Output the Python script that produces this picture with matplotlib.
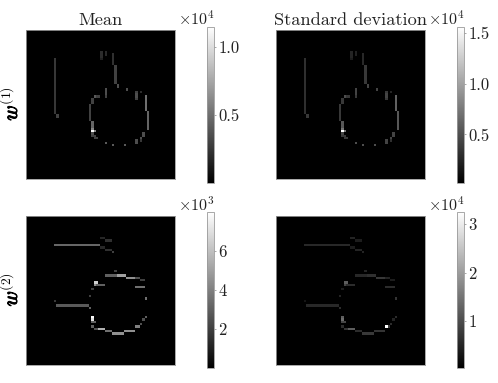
import numpy as np
import matplotlib
matplotlib.use("Agg")
import matplotlib.pyplot as plt
import matplotlib.patheffects as pe

plt.rcParams['font.family'] = ['cmr10', 'DejaVu Sans']
plt.rcParams['mathtext.fontset'] = 'cm'
plt.rcParams['axes.unicode_minus'] = False

GRID = 64
# Bright cells of each map: (row, first col, last col, value)
mean_1 = [
    (9, 32, 32, .20), (10, 32, 32, .20), (11, 32, 32, .20), (12, 32, 32, .15), (9, 34, 34, .18), (10, 34, 34, .18),
    (10, 37, 37, .22), (11, 37, 37, .22), (12, 37, 37, .22), (13, 37, 37, .22), (14, 37, 37, .22),
    (15, 38, 38, .30), (16, 38, 38, .30), (17, 38, 38, .30), (18, 38, 38, .30), (19, 38, 38, .30), (20, 38, 38, .30), (21, 38, 38, .30), (22, 38, 38, .30),
    (23, 39, 39, .35), (24, 39, 39, .35), (25, 43, 43, .35),
    (25, 34, 34, .35), (26, 34, 34, .35), (27, 34, 34, .35), (28, 34, 34, .30),
    (26, 47, 47, .30), (27, 47, 47, .35), (28, 47, 47, .35), (29, 47, 47, .30), (26, 49, 49, .20),
    (28, 29, 29, .40), (28, 30, 31, .30), (29, 28, 28, .30), (30, 28, 28, .30), (31, 28, 28, .30),
    (32, 27, 27, .30), (33, 27, 27, .30), (34, 27, 27, .30), (35, 27, 27, .30), (36, 27, 27, .30), (37, 27, 27, .30), (38, 27, 27, .30),
    (39, 28, 28, .45), (40, 28, 28, .45), (41, 28, 28, .45), (42, 28, 28, .60), (43, 28, 28, 1.12), (43, 29, 29, .60), (44, 28, 28, .35), (45, 28, 29, .30), (46, 29, 30, .30),
    (48, 34, 34, .40), (49, 37, 37, .40), (49, 42, 42, .40), (47, 47, 47, .35), (48, 47, 47, .35),
    (46, 49, 49, .35), (47, 49, 49, .25), (44, 50, 50, .35), (45, 50, 50, .35),
    (35, 52, 52, .45), (36, 52, 52, .45), (37, 52, 52, .45), (38, 52, 52, .45), (39, 52, 52, .45), (40, 52, 52, .45), (41, 52, 52, .45), (42, 52, 52, .45),
    (28, 51, 51, .50), (29, 51, 51, .50), (30, 51, 51, .50), (31, 51, 51, .50), (32, 51, 51, .50), (33, 51, 51, .50), (34, 51, 51, .50),
    (12, 12, 12, .25), (16, 12, 12, .25), (20, 12, 12, .25), (24, 12, 12, .25), (28, 12, 12, .25), (32, 12, 12, .25), (35, 12, 12, .25),
    (13, 12, 12, .25), (14, 12, 12, .25), (15, 12, 12, .25), (17, 12, 12, .25), (18, 12, 12, .25), (19, 12, 12, .25), (21, 12, 12, .25), (22, 12, 12, .25), (23, 12, 12, .25),
    (25, 12, 12, .25), (26, 12, 12, .25), (27, 12, 12, .25), (29, 12, 12, .25), (30, 12, 12, .25), (31, 12, 12, .25), (33, 12, 12, .25), (34, 12, 12, .25),
    (36, 13, 13, .30), (37, 13, 13, .30),
]
std_1 = [(r, a, b, v * 1.22 if v < 1 else 1.56) for r, a, b, v in mean_1]
mean_2 = [
    (9, 32, 33, 1.2), (10, 34, 36, 1.5), (12, 12, 31, 3.2), (13, 32, 33, 1.3), (14, 34, 36, 1.5), (15, 37, 37, 2.0),
    (23, 38, 38, 2.0), (25, 34, 38, 3.0), (25, 39, 42, 5.0), (26, 43, 46, 4.5), (26, 47, 48, 2.5), (27, 49, 50, 2.0),
    (28, 29, 30, 6.5), (29, 29, 29, 4.5), (29, 30, 33, 3.0), (30, 47, 50, 3.5), (31, 28, 28, 2.0), (34, 27, 27, 2.0), (35, 51, 51, 3.5),
    (36, 12, 12, 1.8), (38, 13, 26, 2.8), (39, 27, 27, 3.0), (43, 28, 28, 7.8), (44, 28, 28, 7.0), (43, 51, 51, 3.0), (44, 50, 50, 2.5),
    (45, 28, 29, 3.0), (46, 49, 49, 2.5), (47, 47, 48, 4.0), (47, 28, 28, 3.0), (48, 29, 30, 2.5), (48, 31, 33, 5.5),
    (49, 34, 36, 3.5), (49, 42, 46, 4.5), (50, 37, 41, 4.5),
]
std_2 = [
    (9, 32, 33, .5), (10, 34, 36, .4), (12, 12, 31, .55), (13, 32, 33, .4), (14, 34, 36, .5), (15, 37, 37, .5),
    (23, 38, 38, .5), (25, 34, 38, .55), (25, 39, 42, .65), (26, 43, 46, .75), (26, 47, 48, .5), (27, 49, 50, .4),
    (28, 29, 30, 1.2), (29, 29, 29, .9), (29, 30, 33, .6), (30, 47, 50, .6), (31, 28, 28, .4), (34, 27, 27, .5), (35, 51, 51, .7),
    (36, 12, 12, .3), (38, 13, 26, .55), (39, 27, 27, .6), (43, 28, 28, 1.2), (44, 28, 28, 1.4), (43, 51, 51, .6), (44, 50, 50, .5),
    (45, 28, 29, .9), (46, 49, 49, .6), (47, 47, 47, 3.25), (47, 48, 48, .8), (47, 28, 28, .6), (48, 29, 30, .7), (48, 31, 33, 1.2),
    (49, 34, 36, .6), (49, 42, 46, .7), (50, 37, 41, .75),
]
ranges = [(0.0, 1.15), (0.02, 1.565), (0.0, 8.0), (0.03, 3.25)]
ticks = [[0.5, 1.0], [0.5, 1.0, 1.5], [2, 4, 6], [1, 2, 3]]
tick_labels = [['0.5', '1.0'], ['0.5', '1.0', '1.5'], ['2', '4', '6'], ['1', '2', '3']]
exps = ['4', '4', '3', '4']
titles = ['Mean', 'Standard deviation', None, None]
row_supers = [r'$^{(1)}$', None, r'$^{(2)}$', None]
maps = [mean_1, std_1, mean_2, std_2]

W, H = 498, 383
fig = plt.figure(figsize=(W / 100, H / 100), dpi=100)
ax_x = [26, 276]
ax_y = [30, 215.7]
cb_y = [(26.5, 183), (212, 368)]
for i, cells in enumerate(maps):
    c, r = i % 2, i // 2
    img = np.zeros((GRID, GRID))
    for row, a, b, v in cells:
        img[row, a:b + 1] = v
    ax = fig.add_axes([ax_x[c] / W, 1 - (ax_y[r] + 149) / H, 149 / W, 149 / H])
    vmin, vmax = ranges[i]
    im = ax.imshow(img, cmap='gray', vmin=vmin, vmax=vmax, interpolation='nearest', aspect='equal')
    ax.set_xticks([]); ax.set_yticks([])
    for s in ax.spines.values():
        s.set_color('#9a9a9a'); s.set_linewidth(0.6)
    if titles[i]:
        ax.text(0.5, 1.012, titles[i], transform=ax.transAxes, ha='center', va='bottom', fontsize=13.2, color='#222222')
    if row_supers[i]:
        fig.text(21 / W, 1 - (ax_y[r] + 82.5) / H, r'$w$', rotation=90, ha='right', va='center', fontsize=15,
                 path_effects=[pe.withStroke(linewidth=0.7, foreground='black')])
        fig.text(21 / W, 1 - (ax_y[r] + 66) / H, row_supers[i], rotation=90, ha='right', va='center', fontsize=14)
    y0, y1 = cb_y[r]
    cax = fig.add_axes([(206.7 + 250 * c) / W, 1 - y1 / H, 7.6 / W, (y1 - y0) / H])
    cb = fig.colorbar(im, cax=cax)
    cb.set_ticks(ticks[i], labels=tick_labels[i])
    cax.tick_params(length=1.5, width=0.4, color='#666666', pad=1.3, labelsize=12, labelcolor='#222222')
    cb.outline.set_edgecolor('#9a9a9a'); cb.outline.set_linewidth(0.6)
    fig.text((214.5 + 250 * c) / W, 1 - (y0 - 1.5) / H, r'$\times10^{%s}$' % exps[i], ha='right', va='baseline', fontsize=11.5, color='#222222')
fig.savefig('out.png', dpi=100)
